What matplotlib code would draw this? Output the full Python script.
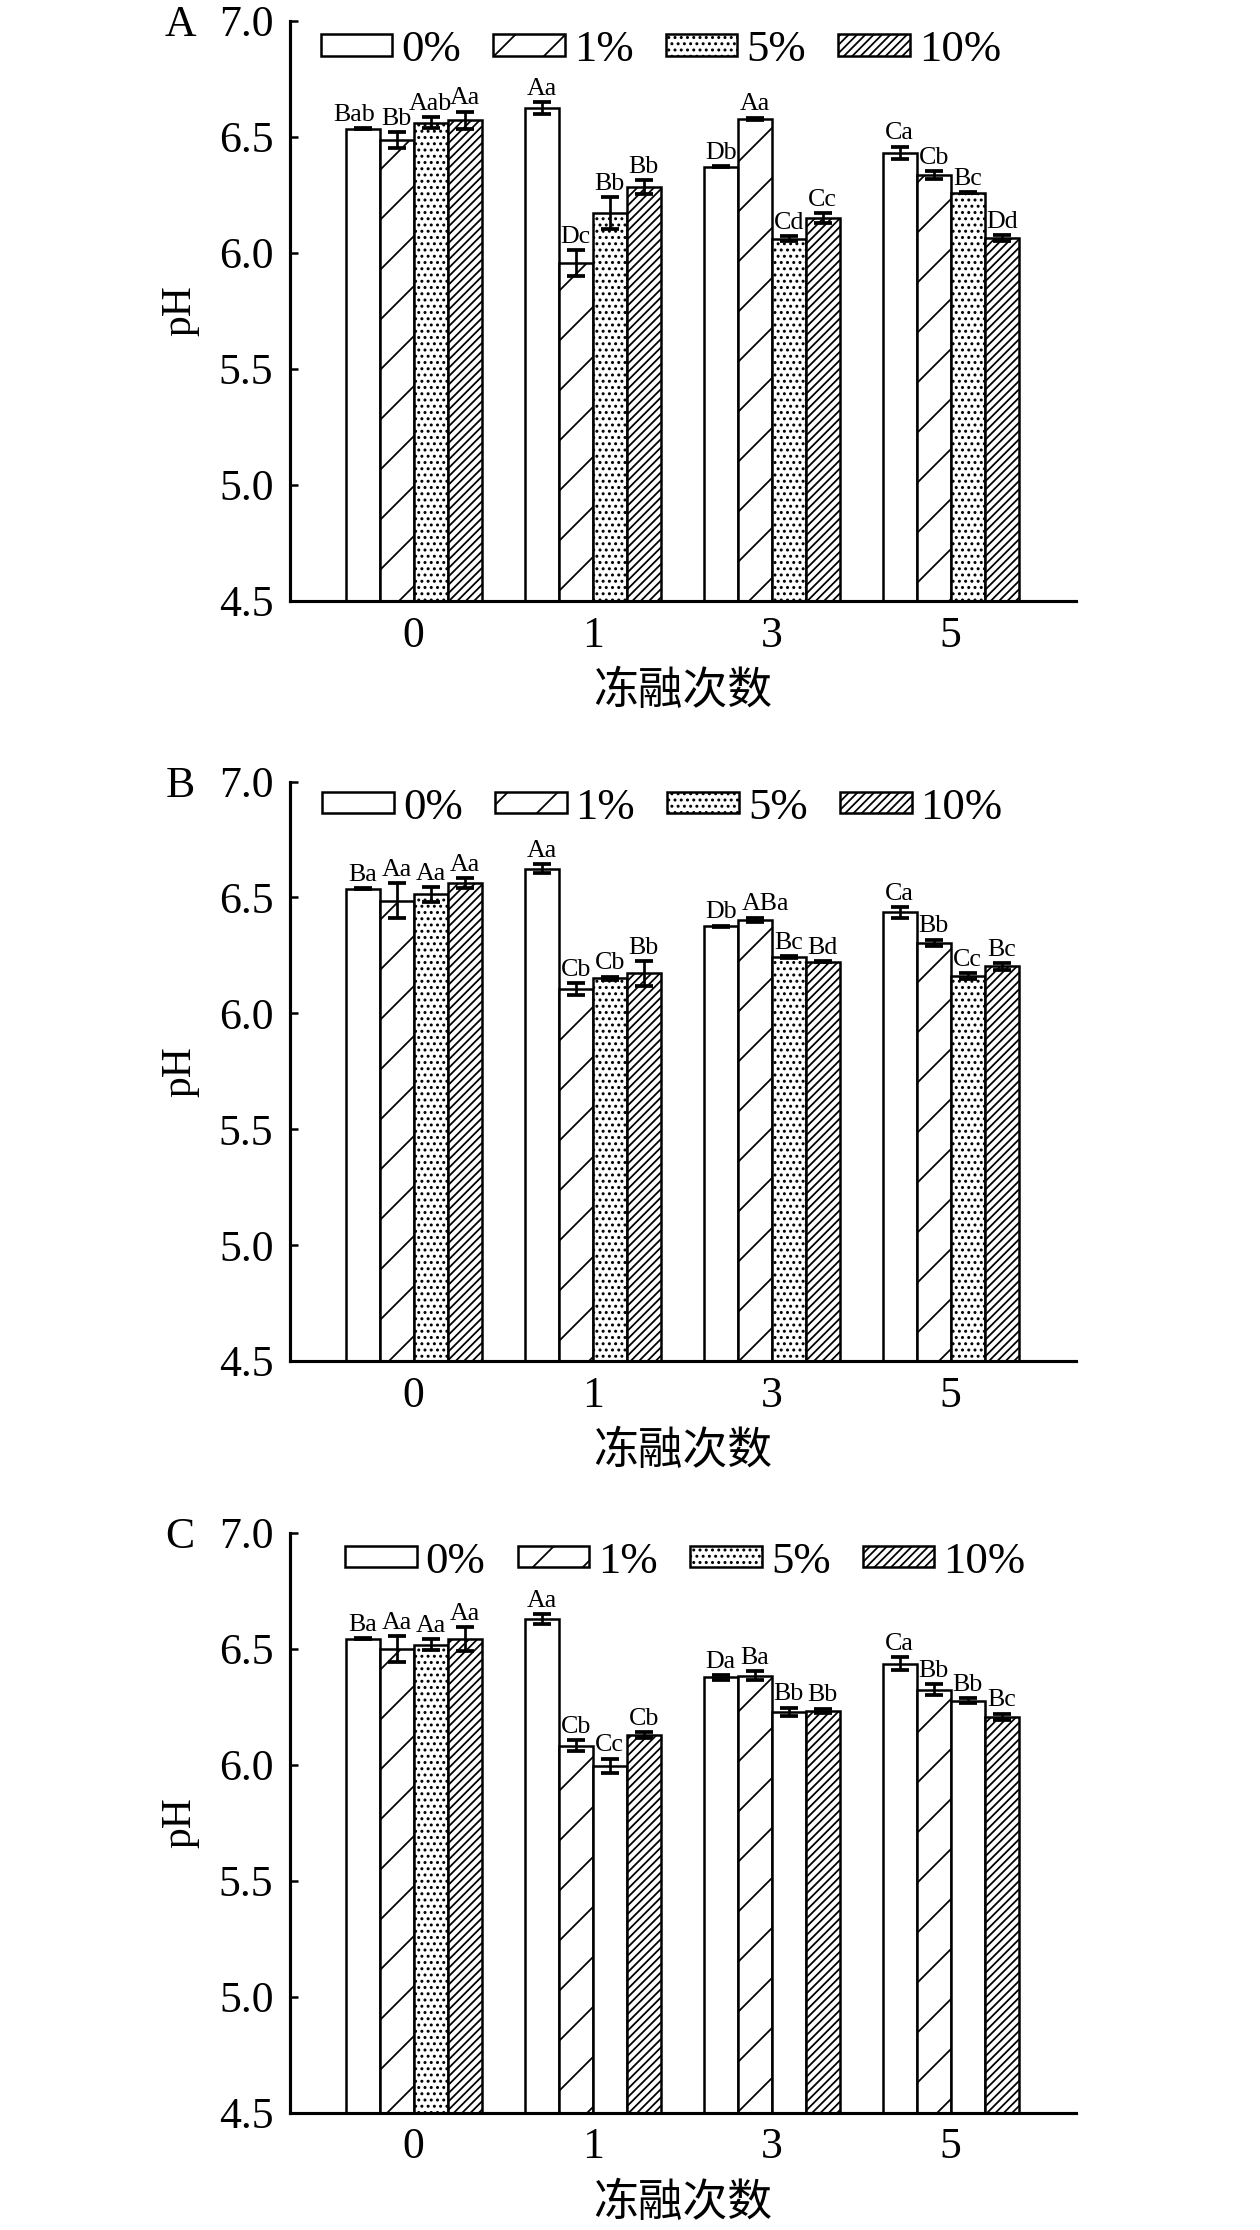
import matplotlib
matplotlib.use("Agg")
import matplotlib.pyplot as plt
import matplotlib.transforms as mtransforms
import numpy as np

plt.rcParams['font.family'] = ['Liberation Serif', 'Noto Sans CJK SC']
plt.rcParams['hatch.linewidth'] = 0.85

# 冻融次数
cycles = ['0', '1', '3', '5']
series = ['0%', '1%', '5%', '10%']
hatches = ['', '/', '....', '//////']

# 面板 A
A_mean = [[6.536, 6.625, 6.371, 6.431],
          [6.486, 5.956, 6.578, 6.336],
          [6.562, 6.172, 6.062, 6.260],
          [6.572, 6.284, 6.151, 6.065]]
A_err = [[0.003, 0.025, 0.002, 0.027],
         [0.034, 0.055, 0.005, 0.016],
         [0.024, 0.068, 0.012, 0.003],
         [0.037, 0.029, 0.020, 0.012]]
A_lab = [['Bab', 'Aa', 'Db', 'Ca'],
         ['Bb', 'Dc', 'Aa', 'Cb'],
         ['Aab', 'Bb', 'Cd', 'Bc'],
         ['Aa', 'Bb', 'Cc', 'Dd']]

# 面板 B
B_mean = [[6.538, 6.625, 6.376, 6.436],
          [6.486, 6.105, 6.403, 6.304],
          [6.513, 6.152, 6.244, 6.162],
          [6.562, 6.173, 6.223, 6.203]]
B_err = [[0.002, 0.020, 0.002, 0.023],
         [0.075, 0.026, 0.010, 0.014],
         [0.032, 0.007, 0.003, 0.013],
         [0.021, 0.053, 0.003, 0.014]]
B_lab = [['Ba', 'Aa', 'Db', 'Ca'],
         ['Aa', 'Cb', 'ABa', 'Bb'],
         ['Aa', 'Cb', 'Bc', 'Cc'],
         ['Aa', 'Bb', 'Bd', 'Bc']]

# 面板 C
C_mean = [[6.542, 6.627, 6.377, 6.436],
          [6.497, 6.082, 6.384, 6.323],
          [6.518, 5.996, 6.228, 6.276],
          [6.542, 6.127, 6.231, 6.207]]
C_err = [[0.002, 0.021, 0.010, 0.027],
         [0.056, 0.025, 0.020, 0.024],
         [0.023, 0.030, 0.018, 0.010],
         [0.050, 0.012, 0.010, 0.013]]
C_lab = [['Ba', 'Aa', 'Da', 'Ca'],
         ['Aa', 'Cb', 'Ba', 'Bb'],
         ['Aa', 'Cc', 'Bb', 'Bb'],
         ['Aa', 'Cb', 'Bb', 'Bc']]

fig = plt.figure(figsize=(8.4, 2230 / 150), dpi=150)

def panel(rect, letter, mean, err, lab, leg_x, leg_y, dots=None, nudge={}):
    ax = fig.add_axes(rect)
    x = np.arange(len(cycles))
    w = 0.19
    for i in range(len(series)):
        xs = x + (i - 1.5) * w
        bars = ax.bar(xs, mean[i], w, color='white', edgecolor='black',
                      linewidth=1.2, hatch=hatches[i], label=series[i])
        # C图中5%组只有第一组有点状填充
        if i == 2 and dots is not None:
            for b, d in zip(bars, dots):
                if not d:
                    b.set_hatch('')
        ax.errorbar(xs, mean[i], yerr=err[i], fmt='none', ecolor='black',
                    elinewidth=1.3, capsize=4.5, capthick=1.8)
        for j, (xx, m, e, t) in enumerate(zip(xs, mean[i], err[i], lab[i])):
            dx = nudge.get((i, j), 0)  # 避免标签重叠
            ax.annotate(t, (xx, m + e), xytext=(dx, 3.5), textcoords='offset points',
                        ha='center', va='baseline', fontsize=12.5)
    ax.set_ylim(4.5, 7.0)
    ax.set_xlim(-0.69, 3.70)
    ax.set_yticks(np.arange(4.5, 7.01, 0.5))
    ax.set_yticklabels(['%.1f' % v for v in np.arange(4.5, 7.01, 0.5)])
    ax.set_xticks(x)
    ax.set_xticklabels(cycles)
    [ax.spines[s].set_visible(False) for s in ['top', 'right']]
    ax.spines['left'].set_linewidth(1.5)
    ax.spines['bottom'].set_linewidth(1.5)
    ax.tick_params(axis='y', direction='in', length=4, width=1.2, pad=8, labelsize=21)
    ax.tick_params(axis='x', length=0, pad=7, labelsize=21)
    ax.set_ylabel('pH', fontsize=20, labelpad=9.5)
    ax.set_xlabel('冻融次数', fontsize=21.5, family='Noto Sans CJK SC', labelpad=6)
    tr = mtransforms.blended_transform_factory(ax.transAxes, ax.transData)
    ax.text(-0.14, 7.0, letter, transform=tr, ha='center', va='center_baseline', fontsize=21)
    ax.legend(loc='center left', bbox_to_anchor=(leg_x, leg_y), ncol=4, frameon=False,
              fontsize=21.5, handlelength=1.6, handleheight=0.36, handletextpad=0.2,
              columnspacing=0.72, borderpad=0, borderaxespad=0)
    return ax

panel([0.2302, 0.7305, 0.6238, 0.2601], 'A', A_mean, A_err, A_lab, 0.039, 0.95,
      nudge={(0, 0): -4})
panel([0.2302, 0.3897, 0.6238, 0.2598], 'B', B_mean, B_err, B_lab, 0.041, 0.955,
      nudge={(1, 2): 5})
panel([0.2302, 0.0526, 0.6238, 0.2601], 'C', C_mean, C_err, C_lab, 0.070, 0.95,
      dots=[True, False, False, False])

fig.savefig('out.png', dpi=150)
